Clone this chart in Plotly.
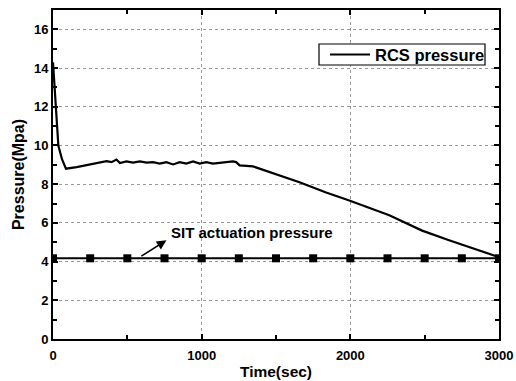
import plotly.graph_objects as go

# RCS pressure curve (time in s, pressure in MPa)
rcs_time = [0, 10, 36, 60, 87, 159, 226, 293, 360, 394, 427, 450, 494, 539, 584, 629, 673,
            718, 763, 808, 852, 897, 942, 987, 1031, 1076, 1120, 1165, 1210, 1232, 1255,
            1345, 1390, 1500, 1658, 1837, 1993, 2262, 2483, 2664, 2800, 3000]
rcs_pressure = [14.3, 13.0, 10.0, 9.3, 8.8, 8.88, 8.97, 9.06, 9.19, 9.14, 9.27, 9.09, 9.18,
                9.11, 9.18, 9.11, 9.14, 9.06, 9.14, 9.02, 9.14, 9.06, 9.18, 9.06, 9.14, 9.06,
                9.10, 9.14, 9.18, 9.14, 8.97, 8.92, 8.80, 8.50, 8.10, 7.57, 7.16, 6.39, 5.60,
                5.10, 4.75, 4.23]

# SIT actuation pressure line
sit_time = [0, 250, 500, 750, 1000, 1250, 1500, 1750, 2000, 2250, 2500, 2750, 3000]
sit_pressure = [4.17] * len(sit_time)

x_ticks = [0, 1000, 2000, 3000]
y_ticks = [0, 2, 4, 6, 8, 10, 12, 14, 16]

rcs_name = "RCS pressure"
sit_label = "SIT actuation pressure"

FONT = "Liberation Sans, Arial, sans-serif"

fig = go.Figure()
fig.add_trace(go.Scatter(x=sit_time, y=sit_pressure, mode="lines+markers",
                         line=dict(color="black", width=2),
                         marker=dict(symbol="square", size=8, color="black"),
                         showlegend=False))
fig.add_trace(go.Scatter(x=rcs_time, y=rcs_pressure, mode="lines", name=rcs_name,
                         line=dict(color="black", width=2.2), showlegend=False))

# arrow + label for SIT line
fig.add_annotation(x=763, y=5.1, ax=584, ay=4.23, axref="x", ayref="y", xref="x", yref="y",
                   text="", showarrow=True, arrowhead=2, arrowsize=1.2, arrowwidth=1.6,
                   arrowcolor="black")
fig.add_annotation(x=780, y=5.52, xref="x", yref="y", text=sit_label,
                   showarrow=False, xanchor="left", yanchor="middle",
                   font=dict(family=FONT, size=15, color="black", weight="bold"))

# compact legend box (layout decoration)
fig.add_shape(type="rect", xref="paper", yref="paper", x0=0.5964, x1=0.9686, y0=0.8328, y1=0.8967,
              line=dict(color="black", width=1.2), fillcolor="white", layer="above")
fig.add_shape(type="line", xref="paper", yref="paper", x0=0.6211, x1=0.7108, y0=0.8647, y1=0.8647,
              line=dict(color="black", width=2.2), layer="above")
fig.add_annotation(x=0.7175, y=0.8647, xref="paper", yref="paper", text=rcs_name,
                   showarrow=False, xanchor="left", yanchor="middle",
                   font=dict(family=FONT, size=16.5, color="black", weight="bold"))

axis_common = dict(showline=True, linecolor="black", linewidth=2, mirror="ticks",
                   ticks="inside", ticklen=5, tickwidth=1.5, tickcolor="black",
                   showgrid=True, gridcolor="#999", griddash="dot", gridwidth=1,
                   zeroline=False, automargin=False,
                   tickfont=dict(family=FONT, size=13, color="black", weight="bold"))

fig.update_xaxes(range=[0, 3000], tickvals=x_ticks, ticktext=[str(v) for v in x_ticks],
                 ticklabelstandoff=3,
                 minor=dict(dtick=500, ticks="inside", ticklen=4, tickcolor="black", showgrid=False),
                 title=dict(text="Time(sec)", font=dict(family=FONT, size=15.5, color="black", weight="bold"),
                            standoff=5),
                 **axis_common)
fig.update_yaxes(range=[0, 17], tickvals=y_ticks, ticktext=[str(v) for v in y_ticks],
                 minor=dict(dtick=1, ticks="inside", ticklen=4, tickcolor="black", showgrid=False),
                 title=dict(text="Pressure(Mpa)", font=dict(family=FONT, size=16, color="black", weight="bold"),
                            standoff=5),
                 **axis_common)

fig.update_layout(
    width=516, height=381,
    margin=dict(l=53, r=17, t=10, b=42),
    paper_bgcolor="white", plot_bgcolor="white",
    showlegend=False,
)

fig.write_html("out.html")
